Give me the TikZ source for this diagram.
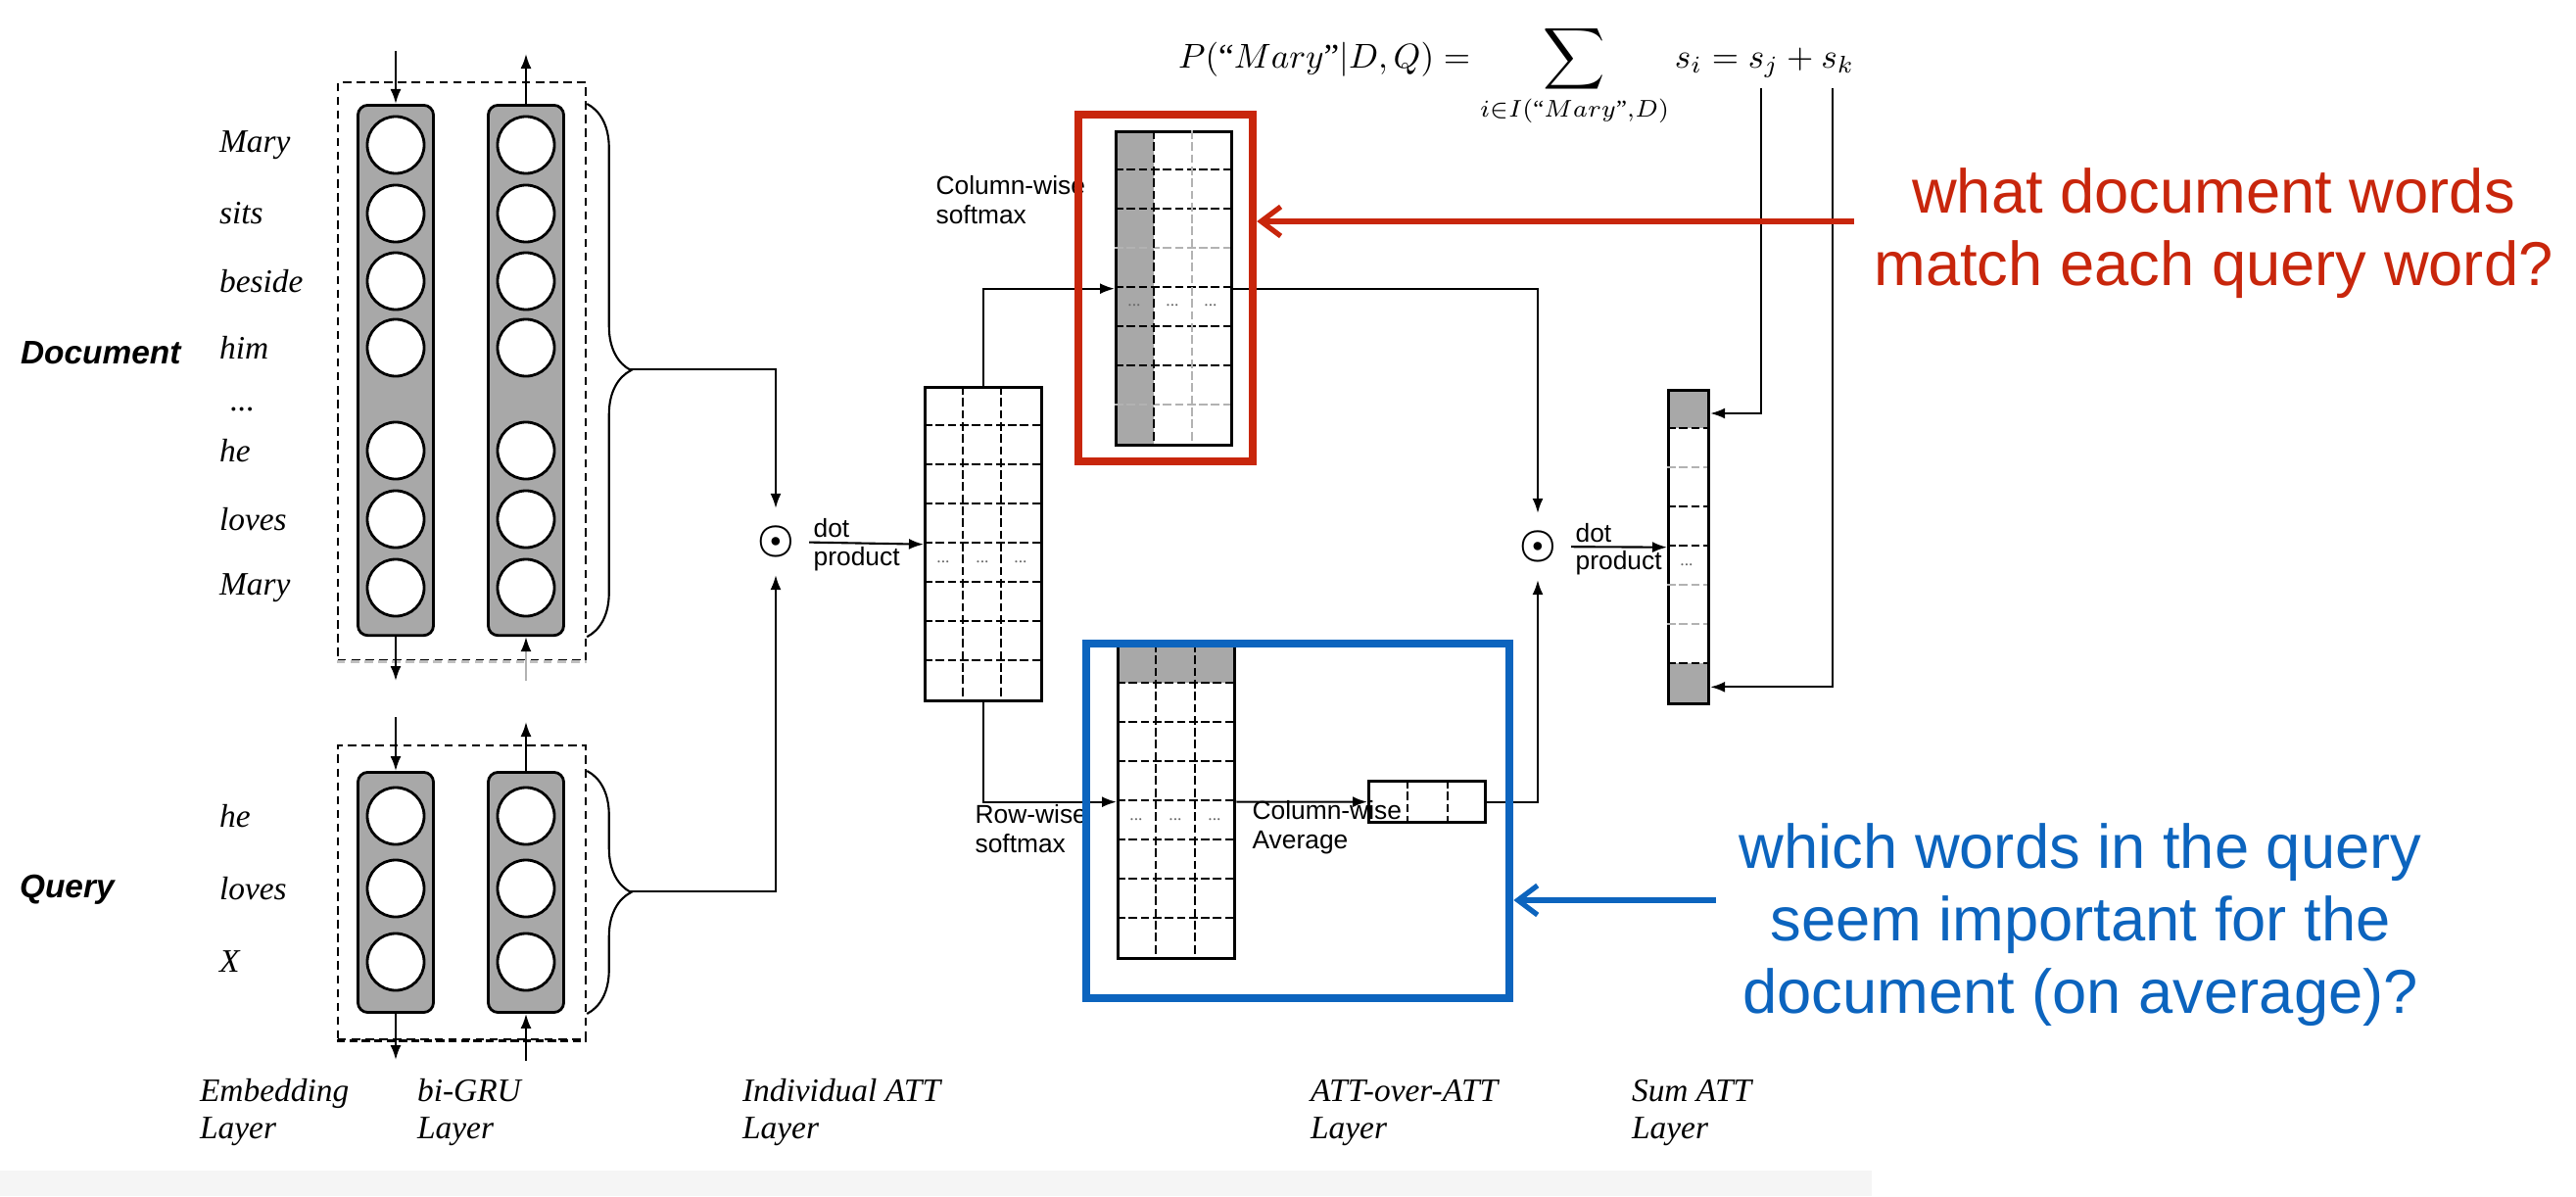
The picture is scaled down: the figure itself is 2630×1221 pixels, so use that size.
\documentclass[tikz,border=0pt]{standalone}
\usepackage{amsmath}
\usepackage{fontspec}
\setmainfont{Liberation Serif}
\setsansfont{Liberation Sans}
\usepackage{tikz}
\usepackage{color}
\usetikzlibrary{calc,positioning,arrows.meta,decorations.pathreplacing}
\definecolor{noteRed}{RGB}{200,38,12}
\definecolor{noteBlue}{RGB}{12,100,190}
\definecolor{cellGray}{RGB}{168,168,168}
\definecolor{bandGray}{RGB}{245,245,245}

\begin{document}
\begin{tikzpicture}[x=0.01cm,y=-0.01cm,line width=0.6pt,
  >={Latex[length=0.15cm,width=0.11cm]},
  dashbox/.style={draw,dash pattern=on 2.4pt off 1.6pt,rectangle,inner sep=0pt,anchor=north west},
  rnncol/.style={draw,line width=0.8pt,fill=cellGray,rounded corners=0.1cm,rectangle,inner sep=0pt,minimum width=0.77cm,anchor=north},
  unit/.style={draw,line width=0.8pt,fill=white,circle,inner sep=0pt,minimum size=0.58cm},
  word/.style={font=\fontsize{9.5}{11}\selectfont\itshape,inner sep=0pt,anchor=west},
  side/.style={font=\fontsize{9.5}{11}\selectfont\sffamily\bfseries\itshape,inner sep=0pt,anchor=west},
  small/.style={font=\fontsize{7.5}{8.5}\selectfont\sffamily,inner sep=1pt,align=left},
  layer/.style={font=\fontsize{9.5}{10.8}\selectfont\itshape,inner sep=0pt,anchor=base west,align=left},
  mat/.style={draw,line width=0.9pt,rectangle,inner sep=0pt,anchor=north west},
  celldash/.style={dash pattern=on 2.5pt off 1pt,line width=0.8pt},
  cellpale/.style={dash pattern=on 2.5pt off 1pt,line width=0.6pt,black!30},
  tinydots/.style={font=\fontsize{5}{6}\selectfont,text=black!60,inner sep=0pt},
  odot/.style={circle,inner sep=0pt,minimum size=0.66cm,font=\fontsize{13}{14}\selectfont},
  note/.style={font=\fontsize{18}{21}\selectfont\sffamily,align=center,inner sep=0pt},
  callout/.style={line width=1.5pt,-{Straight Barb[length=0.2cm,width=0.3cm]}}
  ]

  \useasboundingbox (0,0) rectangle (2630,1221);
  \fill[bandGray] (0,1195) rectangle (1911,1221);

  %document side
  \node[dashbox,minimum width=2.53cm,minimum height=5.9cm] (docbox) at (344,83) {};
  \draw[white,line width=1pt] (docbox.south west) -- (docbox.south east);
  \draw[black!25,line width=0.9pt,dash pattern=on 2.4pt off 1.6pt] (docbox.south west) -- (docbox.south east);
  \node[rnncol,minimum height=5.41cm] (docemb) at (404,106) {};
  \node[rnncol,minimum height=5.41cm] (docgru) at (537,106) {};
  \foreach \y/\w [count=\i] in {148/Mary,218/sits,287/beside,355/him,460/he,530/loves,600/Mary}{
    \node[unit] (de\i) at (404,\y) {};
    \node[unit] (dg\i) at (537,\y) {};
    \node[word] (dw\i) at (223,\y) {\w};
  }
  \node[word] (dwdots) at (234,418) {...};
  \node[side] (doclbl) at (20,360) {Document};

  \coordinate (deIn) at (404,52);
  \coordinate (dgOut) at (537,55);
  \coordinate (deOut) at (404,695);
  \coordinate (dgIn) at (537,695);
  \draw[->] (deIn) -- (docemb.north);
  \draw[->] (docgru.north) -- (dgOut);
  \draw[->] (docemb.south) -- (deOut);
  \draw[-{Latex[length=0.15cm,width=0.11cm,color=black]},black!30] (dgIn) -- (docgru.south);

  %query side
  \node[dashbox,minimum width=2.53cm,minimum height=3cm] (qrybox) at (344,760) {};
  \draw[line width=1pt,dash pattern=on 2.4pt off 1.2pt] (qrybox.south west) -- (qrybox.south east);
  \node[rnncol,minimum height=2.45cm] (qryemb) at (404,787) {};
  \node[rnncol,minimum height=2.45cm] (qrygru) at (537,787) {};
  \foreach \y/\w [count=\i] in {833/he,907/loves,982/X}{
    \node[unit] (qe\i) at (404,\y) {};
    \node[unit] (qg\i) at (537,\y) {};
    \node[word] (qw\i) at (223,\y) {\w};
  }
  \node[side] (qrylbl) at (19,908) {Query};

  \coordinate (qeIn) at (404,732);
  \coordinate (qgOut) at (537,737);
  \coordinate (qeOut) at (404,1082);
  \coordinate (qgIn) at (537,1083);
  \draw[->] (qeIn) -- (qryemb.north);
  \draw[->] (qrygru.north) -- (qgOut);
  \draw[->] (qryemb.south) -- (qeOut);
  \draw[->] (qgIn) -- (qrygru.south);

  %braces
  \draw[decorate,decoration={brace,amplitude=0.45cm}] (docbox.east |- docemb.north) -- (docbox.east |- docemb.south);
  \draw[decorate,decoration={brace,amplitude=0.45cm}] (qrybox.east |- qryemb.north) -- (qrybox.east |- qryemb.south);
  \coordinate (docTip) at (642,377);
  \coordinate (qryTip) at (642,910);

  %individual attention
  \node[odot] (dot1) at (792,553) {$\boldsymbol{\odot}$};
  \draw[->] (docTip) -| (dot1);
  \draw[->] (qryTip) -| (dot1);
  \node[mat,minimum width=1.19cm,minimum height=3.2cm] (attmat) at (943,394) {};
  \foreach \r in {1,...,7}
    \draw[celldash] (943,{394+40*\r}) -- (1062,{394+40*\r});
  \draw[celldash] (983,394) -- (983,714);
  \draw[celldash] (1022,394) -- (1022,714);
  \foreach \x [count=\i] in {963,1003,1042}
    \node[tinydots] (attdots\i) at (\x,574) {...};
  \draw[->] (dot1) -- (attmat.west)
    node[small,pos=0,anchor=south west] (dotlbl1) {dot}
    node[small,pos=0,anchor=north west] (prodlbl1) {product};

  %column-wise softmax
  \fill[cellGray] (1138,133) rectangle (1178,453);
  \node[mat,minimum width=1.18cm,minimum height=3.2cm] (colmat) at (1138,133) {};
  \foreach \r/\s in {1/celldash,2/celldash,3/cellpale,4/celldash,5/celldash,6/celldash,7/cellpale}
    \draw[\s] (1138,{133+40*\r}) -- (1256,{133+40*\r});
  \draw[celldash] (1178,133) -- (1178,453);
  \draw[cellpale] (1217,133) -- (1217,453);
  \foreach \x [count=\i] in {1158,1197,1236}
    \node[tinydots] (coldots\i) at (\x,312) {...};
  \node[small,anchor=base west] (colsoft) at (951,228) {Column-wise\\softmax};
  \draw[->] (attmat.north) |- (colmat.west);

  %row-wise softmax
  \fill[cellGray] (1140,657) rectangle (1259,697);
  \node[mat,minimum width=1.19cm,minimum height=3.2cm] (rowmat) at (1140,657) {};
  \foreach \r in {1,...,7}
    \draw[celldash] (1140,{657+40*\r}) -- (1259,{657+40*\r});
  \draw[celldash] (1180,657) -- (1180,977);
  \draw[celldash] (1220,657) -- (1220,977);
  \foreach \x [count=\i] in {1160,1200,1240}
    \node[tinydots] (rowdots\i) at (\x,837) {...};
  \node[small,anchor=base west] (rowsoft) at (991,870) {Row-wise\\softmax};
  \draw[->] (attmat.south) |- (rowmat.west);

  %column-wise average
  \node[mat,minimum width=1.19cm,minimum height=0.42cm] (avgvec) at (1396,796) {};
  \draw[celldash] (1437,796) -- (1437,838);
  \draw[celldash] (1478,796) -- (1478,838);
  \node[small,anchor=base west] (colavg) at (1274,866) {Column-wise\\Average};
  \draw[->] (rowmat.east) -- (avgvec.west);

  %attention over attention
  \node[odot] (dot2) at (1570,558) {$\boldsymbol{\odot}$};
  \draw[->] (colmat.east) -| (dot2);
  \draw[->] (avgvec.east) -| (dot2);
  \fill[cellGray] (1702,397) rectangle (1743,437);
  \fill[cellGray] (1702,677) rectangle (1743,717);
  \node[mat,minimum width=0.41cm,minimum height=3.2cm] (sumvec) at (1702,397) {};
  \foreach \r/\s in {1/celldash,2/cellpale,3/celldash,4/celldash,5/cellpale,6/cellpale,7/celldash}
    \draw[\s] (1702,{397+40*\r}) -- (1743,{397+40*\r});
  \node[tinydots] (sumdots) at (1722,577) {...};
  \draw[->] (dot2) -- (sumvec.west)
    node[small,pos=0,anchor=south west] (dotlbl2) {dot}
    node[small,pos=0,anchor=north west] (prodlbl2) {product};

  %sum attention
  \node[anchor=base west,inner sep=0pt,font=\fontsize{10}{12}\selectfont] (formula) at (1202,69)
    {$P(\text{``}Mary\text{''}|D,Q)=\mathop{\vcenter{\hbox{\scalebox{1.25}{$\displaystyle\sum$}}}}\limits_{i\in I(\text{``}Mary\text{''},D)} s_i=s_j+s_k$};
  \coordinate (sj) at (1798,90);
  \coordinate (sk) at (1871,90);
  \draw[->] (sj) |- ($(sumvec.north east)+(0,25)$);
  \draw[->] (sk) |- ($(sumvec.south east)+(0,-19)$);

  %layer names
  \node[layer] (embl) at (203,1162) {Embedding\\Layer};
  \node[layer] (grul) at (425,1162) {bi-GRU\\Layer};
  \node[layer] (indl) at (757,1162) {Individual ATT\\Layer};
  \node[layer] (aoal) at (1337,1162) {ATT-over-ATT\\Layer};
  \node[layer] (suml) at (1665,1162) {Sum ATT\\Layer};

  %highlights
  \node[draw=noteRed,line width=2.3pt,rectangle,anchor=north west,minimum width=1.78cm,minimum height=3.54cm] (redbox) at (1097,113) {};
  \node[draw=noteBlue,line width=2.3pt,rectangle,anchor=north west,minimum width=4.32cm,minimum height=3.62cm] (bluebox) at (1105,653) {};
  \node[note,text=noteRed] (redq) at (2260,238) {what document words\\match each query word?};
  \node[note,text=noteBlue] (blueq) at (2124,944) {which words in the query\\seem important for the\\document (on average)?};
  \coordinate (redFrom) at (1893,226);
  \coordinate (blueFrom) at (1752,919);
  \draw[callout,noteRed] (redFrom) -- (redbox.east |- redFrom);
  \draw[callout,noteBlue] (blueFrom) -- (bluebox.east |- blueFrom);

\end{tikzpicture}
\end{document}
